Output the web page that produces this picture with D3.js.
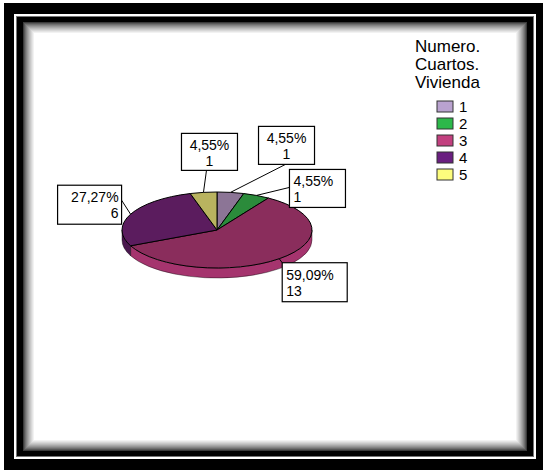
<!DOCTYPE html>
<html>
<head>
<meta charset="utf-8">
<script src="https://cdn.jsdelivr.net/npm/d3@7"></script>
<style>
  body { margin: 0; background: #fff; }
  text { font-family: "Liberation Sans", Arial, sans-serif; fill: #000; }
</style>
</head>
<body>
<div id="chart"></div>
<script>
// data
var categories = ["1", "2", "3", "4", "5"];
var counts = [1, 1, 13, 6, 1];
var legendTitle = ["Numero.", "Cuartos.", "Vivienda"];

// colours (legend swatch, top face, side face)
var swatchColors = ["#b9a2cf", "#2db84a", "#c2407f", "#6a1f80", "#fdfd7d"];
var topColors = ["#8c7596", "#2b8b3b", "#8a2d5c", "#5b1c5e", "#b9b35f"];
var sideColors = ["#6e5a78", "#1f6a2c", "#a5346e", "#4a174e", "#8f8a45"];

var width = 543, height = 470;

var svg = d3.select("#chart").append("svg")
  .attr("width", width)
  .attr("height", height);

//frame
svg.append("rect").attr("x", 4).attr("y", 3).attr("width", width - 4).attr("height", height - 3).attr("fill", "#000");
svg.append("rect").attr("x", 15).attr("y", 15).attr("width", 520).attr("height", 443)
  .attr("fill", "none").attr("stroke", "#fff").attr("stroke-width", 2);
svg.append("rect").attr("x", 16.5).attr("y", 16.5).attr("width", 517).attr("height", 440)
  .attr("fill", "none").attr("stroke", "#777").attr("stroke-width", 1);

//inner shadow
var steps = 12;
for (var i = 0; i <= steps; i++) {
  var t = Math.pow(i / steps, 0.6);
  svg.append("rect")
    .attr("x", 22 + i).attr("y", 21 + i)
    .attr("width", 506 - 2 * i).attr("height", 431 - 2 * i)
    .attr("fill", d3.interpolateRgb("#000", "#fff")(t));
}

//pie
var cx = 217, cy = 230, rx = 95, ry = 38, depth = 10;

function pt(a, dy) {
  return [cx + rx * Math.sin(a), cy - ry * Math.cos(a) + (dy || 0)];
}

var pie = d3.pie().sort(null).startAngle(0).endAngle(2 * Math.PI);
var arcs = pie(counts);
var total = d3.sum(counts);

function topPath(d) {
  var p0 = pt(d.startAngle), p1 = pt(d.endAngle);
  var large = (d.endAngle - d.startAngle) > Math.PI ? 1 : 0;
  return "M" + cx + "," + cy + "L" + p0 + "A" + rx + "," + ry + " 0 " + large + " 1 " + p1 + "Z";
}

function sidePath(d) {
  var s = Math.max(d.startAngle, Math.PI / 2), e = Math.min(d.endAngle, 3 * Math.PI / 2);
  if (s >= e) return null;
  return "M" + pt(s) + "A" + rx + "," + ry + " 0 0 1 " + pt(e) +
    "L" + pt(e, depth) + "A" + rx + "," + ry + " 0 0 0 " + pt(s, depth) + "Z";
}

var g = svg.append("g");

g.selectAll(".side")
  .data(arcs.filter(function(d) { return sidePath(d); }))
  .enter().append("path")
  .attr("class", "side")
  .attr("d", sidePath)
  .attr("fill", function(d) { return sideColors[d.index]; })
  .attr("stroke", "#000")
  .attr("stroke-width", 0.4);

g.selectAll(".top")
  .data(arcs)
  .enter().append("path")
  .attr("class", "top")
  .attr("d", topPath)
  .attr("fill", function(d) { return topColors[d.index]; })
  .attr("stroke", "#000")
  .attr("stroke-width", 1)
  .attr("stroke-linejoin", "round");

//labels: box placement relative to slice edge
var labelLayout = [
  {dx: 28, dy: -66, w: 56, h: 38, align: "middle", lx: 27, ly: 38},
  {dx: 33, dy: -26, w: 56, h: 38, align: "start", lx: 0, ly: 18},
  {dx: 3, dy: 4, w: 65, h: 39, align: "start", lx: 0, ly: 0},
  {dx: -73, dy: -29, w: 64, h: 39, align: "end", lx: 64, ly: 15},
  {dx: -22, dy: -59, w: 56, h: 37, align: "middle", lx: 25, ly: 37}
];

function fmt(v) {
  return (v / total * 100).toFixed(2).replace(".", ",") + "%";
}

arcs.forEach(function(d) {
  var L = labelLayout[d.index];
  var a = pt((d.startAngle + d.endAngle) / 2);
  var bx = a[0] + L.dx, by = a[1] + L.dy;

  g.append("line")
    .attr("x1", a[0]).attr("y1", a[1])
    .attr("x2", bx + L.lx).attr("y2", by + L.ly)
    .attr("stroke", "#000").attr("stroke-width", 1);

  g.append("rect")
    .attr("x", bx).attr("y", by).attr("width", L.w).attr("height", L.h)
    .attr("fill", "#fff").attr("stroke", "#000").attr("stroke-width", 1.2);

  var tx = L.align == "start" ? bx + 4 : (L.align == "end" ? bx + L.w - 3 : bx + L.w / 2);
  var txt = g.append("text")
    .attr("text-anchor", L.align)
    .attr("font-size", 14);
  txt.append("tspan").attr("x", tx).attr("y", by + 17).text(fmt(d.value));
  txt.append("tspan").attr("x", tx).attr("y", by + 33).text(d.value);
});

//legend
var legend = svg.append("g");
legend.selectAll(".ltitle")
  .data(legendTitle)
  .enter().append("text")
  .attr("class", "ltitle")
  .attr("x", 415)
  .attr("y", function(d, i) { return 52 + i * 18; })
  .attr("font-size", 17)
  .text(function(d) { return d; });

var items = legend.selectAll(".item")
  .data(categories)
  .enter().append("g")
  .attr("class", "item")
  .attr("transform", function(d, i) { return "translate(437," + (101 + i * 17) + ")"; });

items.append("rect")
  .attr("width", 16).attr("height", 11)
  .attr("fill", function(d, i) { return swatchColors[i]; })
  .attr("stroke", "#333").attr("stroke-width", 1);

items.append("text")
  .attr("x", 22).attr("y", 11)
  .attr("font-size", 15)
  .text(function(d) { return d; });
</script>
</body>
</html>
